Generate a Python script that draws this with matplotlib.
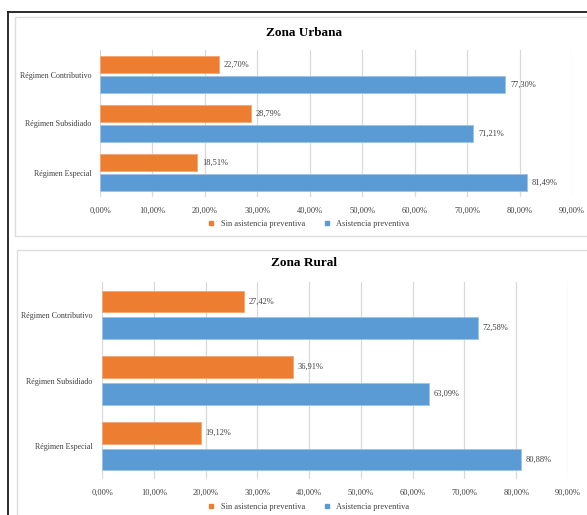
import matplotlib.pyplot as plt
from matplotlib.lines import Line2D
from matplotlib.patches import Rectangle
from matplotlib.ticker import FuncFormatter, MultipleLocator
import numpy as np

plt.rcParams['font.family'] = ['Liberation Serif', 'DejaVu Serif']

# datos de asistencia preventiva por régimen (%)
categorias = ["Régimen Contributivo", "Régimen Subsidiado", "Régimen Especial"]
urbana_sin = [22.70, 28.79, 18.51]
urbana_con = [77.30, 71.21, 81.49]
rural_sin = [27.42, 36.91, 19.12]
rural_con = [72.58, 63.09, 80.88]
series = ["Sin asistencia preventiva", "Asistencia preventiva"]

NARANJA = "#ED7D31"
AZUL = "#5B9BD5"
W, H = 587, 515

fig = plt.figure(figsize=(W / 100, H / 100), dpi=100)


def px_axes(x0, y0, x1, y1):
    # caja en pixeles (origen arriba a la izquierda) -> coordenadas de figura
    return fig.add_axes([x0 / W, 1 - y1 / H, (x1 - x0) / W, (y1 - y0) / H])


def fmt_pct(v):
    return f"{v:.2f}".replace(".", ",") + "%"


def panel(ax, sin, con, titulo, title_xy, legend_y, ypad):
    y = np.arange(len(categorias))
    off, h = 0.205, 0.33
    ax.barh(y - off, sin, height=h, color=NARANJA, edgecolor="#F4A672", linewidth=0.6, zorder=3)
    ax.barh(y + off, con, height=h, color=AZUL, edgecolor="#9DC3E6", linewidth=0.6, zorder=3)
    for yi, v in zip(y - off, sin):
        ax.text(v + 0.9, yi, fmt_pct(v), va="center", ha="left", fontsize=6, color="#404040")
    for yi, v in zip(y + off, con):
        ax.text(v + 0.9, yi, fmt_pct(v), va="center", ha="left", fontsize=6, color="#404040")

    ax.set_xlim(0, 90)
    ax.set_ylim(len(categorias) - 0.5, -0.5)
    ax.xaxis.set_major_locator(MultipleLocator(10))
    ax.xaxis.set_major_formatter(FuncFormatter(lambda v, p: fmt_pct(v)))
    ax.set_yticks(y)
    ax.set_yticklabels(categorias)
    ax.tick_params(axis="both", length=0, labelcolor="#404040")
    ax.tick_params(axis="x", labelsize=6, pad=7)
    ax.tick_params(axis="y", labelsize=5.8, pad=ypad)
    ax.grid(axis="x", color="#D9D9D9", linewidth=0.9, zorder=0)
    for s in ax.spines.values():
        s.set_visible(False)

    fig.text(title_xy[0] / W, 1 - title_xy[1] / H, titulo, ha="center", va="center",
             fontsize=9.5, fontweight="bold")

    handles = [Line2D([], [], marker="s", linestyle="none", markersize=3.2, color=c)
               for c in (NARANJA, AZUL)]
    fig.legend(handles, series, loc="center", bbox_to_anchor=(306 / W, 1 - legend_y / H),
               ncol=2, frameon=False, fontsize=6, handletextpad=0.1, columnspacing=1.6,
               labelcolor="#404040", borderaxespad=0)


# marco exterior y bordes de cada grafico
fig.add_artist(Line2D([8 / W, 8 / W], [0, 1 - 12 / H], color="#1a1a1a", linewidth=1.3))
fig.add_artist(Line2D([8 / W, 1], [1 - 12 / H, 1 - 12 / H], color="#1a1a1a", linewidth=1.3))
fig.add_artist(Rectangle((15 / W, 1 - 236 / H), 1, (236 - 17) / H, transform=fig.transFigure,
                         fill=False, edgecolor="#DDDDDD", linewidth=1.0, clip_on=False))
fig.add_artist(Rectangle((17 / W, -0.1), 1, 1 - 250 / H + 0.1, transform=fig.transFigure,
                         fill=False, edgecolor="#DDDDDD", linewidth=1.0, clip_on=False))

ax1 = px_axes(100, 50, 572, 197)
panel(ax1, urbana_sin, urbana_con, "Zona Urbana", (304, 33), 224, 6)

ax2 = px_axes(102, 282, 568, 479)
panel(ax2, rural_sin, rural_con, "Zona Rural", (304, 263), 507, 7)

fig.savefig("out.png", dpi=100)
